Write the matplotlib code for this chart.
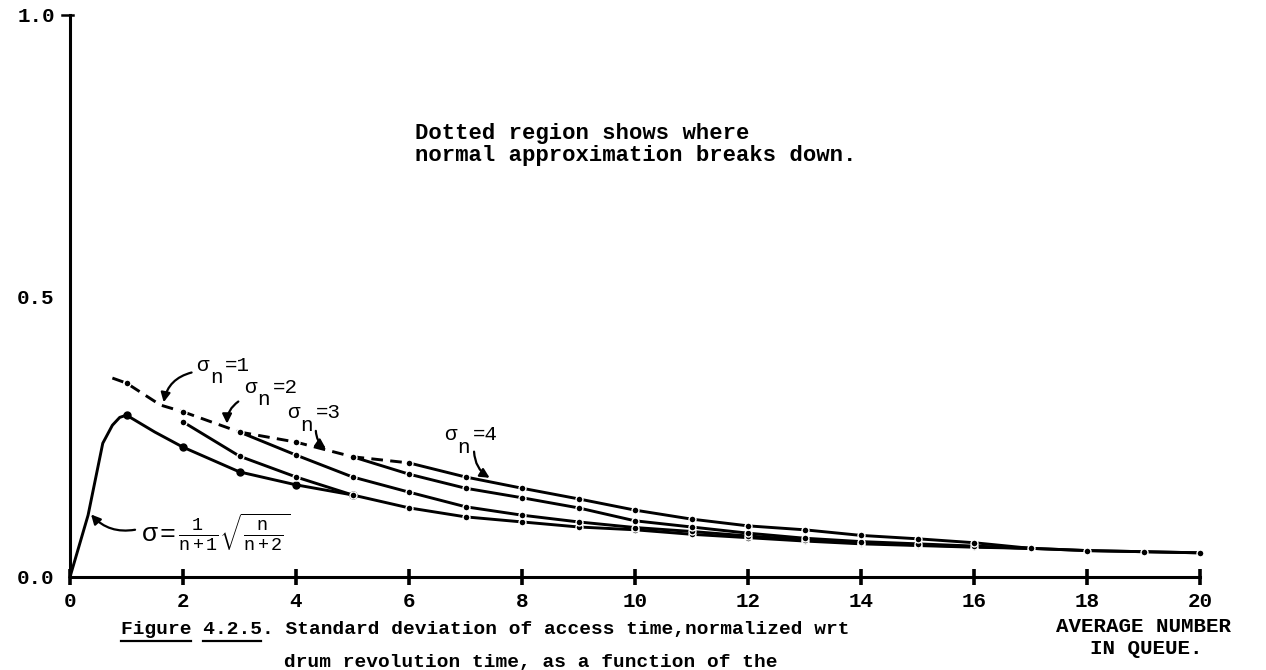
import matplotlib.pyplot as plt

plt.rcParams['font.family'] = ['Liberation Mono', 'DejaVu Sans Mono']
plt.rcParams['mathtext.fontset'] = 'custom'
plt.rcParams['mathtext.rm'] = 'Liberation Mono'
plt.rcParams['mathtext.it'] = 'Liberation Mono'
plt.rcParams['mathtext.bf'] = 'Liberation Mono:bold'

# axis ticks
x_ticks = [0, 2, 4, 6, 8, 10, 12, 14, 16, 18, 20]
y_ticks = [0.0, 0.5, 1.0]
y_labels = ['0.0', '0.5', '1.0']

# exact curve  sigma = 1/(n+1) * sqrt(n/(n+2))
exact_x = [0, 0.32, 0.58, 0.75, 0.88, 1, 1.5, 2, 3, 4, 5]
exact_y = [0, 0.11, 0.238, 0.27, 0.284, 0.288, 0.258, 0.231, 0.187, 0.164, 0.146]

# sigma_n = 1 .. 4 : dotted part (normal approx. breaks down) + valid part
s1_dot_x = [0.75, 1, 1.6, 2]
s1_dot_y = [0.354, 0.345, 0.306, 0.294]
s1_x = [2, 3, 4, 5, 6, 7, 8, 9, 10, 11, 12, 13, 14, 15, 16, 17, 18, 19, 20]
s1_y = [0.276, 0.215, 0.178, 0.146, 0.123, 0.107, 0.098, 0.089, 0.084, 0.076,
        0.070, 0.064, 0.059, 0.056, 0.053, 0.051, 0.047, 0.045, 0.043]

s2_dot_x = [2, 3]
s2_dot_y = [0.294, 0.258]
s2_x = [3, 4, 5, 6, 7, 8, 9, 10, 11, 12, 13, 14, 15, 16, 17]
s2_y = [0.258, 0.217, 0.178, 0.151, 0.125, 0.110, 0.098, 0.088, 0.081, 0.073,
        0.066, 0.061, 0.057, 0.054, 0.051]

s3_dot_x = [3, 4, 5]
s3_dot_y = [0.258, 0.240, 0.214]
s3_x = [5, 6, 7, 8, 9, 10, 11, 12, 13, 14, 15, 16, 17]
s3_y = [0.214, 0.183, 0.158, 0.141, 0.123, 0.100, 0.089, 0.078, 0.069, 0.063,
        0.059, 0.055, 0.051]

s4_dot_x = [5, 6]
s4_dot_y = [0.214, 0.203]
s4_x = [6, 7, 8, 9, 10, 11, 12, 13, 14, 15, 16, 17, 18, 19, 20]
s4_y = [0.203, 0.178, 0.158, 0.139, 0.119, 0.103, 0.091, 0.084, 0.074, 0.068,
        0.061, 0.051, 0.047, 0.045, 0.043]

W, H = 1266, 670
fig = plt.figure(figsize=(W / 100, H / 100), dpi=100)
ax = fig.add_axes([70 / W, 93 / H, 1130 / W, 562 / H])

ax.set_xlim(0, 20)
ax.set_ylim(0, 1.0)
for side in ['top', 'right']:
    ax.spines[side].set_visible(False)
for side in ['left', 'bottom']:
    ax.spines[side].set_linewidth(2.2)

ax.set_xticks(x_ticks)
ax.set_xticklabels([str(t) for t in x_ticks])
ax.tick_params(axis='x', direction='inout', length=11, width=2.6, pad=5, labelsize=15)
ax.set_yticks(y_ticks)
ax.set_yticklabels(y_labels)
ax.tick_params(axis='y', length=0, pad=11, labelsize=15)
for lbl in ax.get_xticklabels() + ax.get_yticklabels():
    lbl.set_fontweight('bold')
# small mark at the top of the y axis
ax.plot([-0.15, 0.05], [1.0, 1.0], color='black', lw=1.8, clip_on=False)

solid_kw = dict(color='black', lw=2.1, marker='o', ms=5, mfc='black', mec='white',
                mew=1.0, clip_on=False, zorder=3)
dash_kw = dict(color='black', lw=2.1, linestyle=(0, (4, 2.5)), marker='o', ms=5,
               mfc='black', mec='white', mew=1.0, clip_on=False, zorder=3)

ax.plot(exact_x, exact_y, color='black', lw=2.1, marker='o', ms=5, mfc='black',
        mec='black', markevery=[5, 7, 8, 9, 10], clip_on=False, zorder=3)

ax.plot(s1_dot_x, s1_dot_y, markevery=[1, 3], **dash_kw)
ax.plot(s1_x, s1_y, **solid_kw)
ax.plot(s2_dot_x, s2_dot_y, **dash_kw)
ax.plot(s2_x, s2_y, **solid_kw)
ax.plot(s3_dot_x, s3_dot_y, **dash_kw)
ax.plot(s3_x, s3_y, **solid_kw)
ax.plot(s4_dot_x, s4_dot_y, **dash_kw)
ax.plot(s4_x, s4_y, **solid_kw)

# sigma_n labels with arrows
arrow_kw = dict(arrowstyle='-|>', lw=1.6, color='black', mutation_scale=14)
labels = [
    ('1', 2.35, 0.377, (2.2, 0.365), (1.65, 0.306), 'arc3,rad=0.35'),
    ('2', 3.19, 0.338, (3.02, 0.315), (2.78, 0.268), 'arc3,rad=0.3'),
    ('3', 3.95, 0.292, (4.35, 0.265), (4.57, 0.226), 'arc3,rad=0.3'),
    ('4', 6.73, 0.253, (7.15, 0.228), (7.47, 0.174), 'arc3,rad=0.3'),
]
for num, lx, ly, start, tip, conn in labels:
    ax.text(lx, ly, 'σ', fontsize=15, ha='center', va='center')
    ax.text(lx + 0.24, ly - 0.022, 'n', fontsize=15, ha='center', va='center')
    ax.text(lx + 0.62, ly, '=' + num, fontsize=15, ha='center', va='center')
    ax.annotate('', xy=tip, xytext=start,
                arrowprops=dict(connectionstyle=conn, **arrow_kw))

# formula for the exact curve
ax.text(1.25, 0.08, r'$\sigma=\frac{1}{n+1}\sqrt{\frac{n}{n+2}}$', fontsize=19,
        ha='left', va='center')
ax.annotate('', xy=(0.34, 0.115), xytext=(1.2, 0.085),
            arrowprops=dict(connectionstyle='arc3,rad=-0.3', **arrow_kw))

# notes
fig.text(415 / W, 1 - 133 / H, 'Dotted region shows where', fontsize=16,
         fontweight='bold', va='center', ha='left')
fig.text(415 / W, 1 - 155 / H, 'normal approximation breaks down.', fontsize=16,
         fontweight='bold', va='center', ha='left')

fig.text(1144 / W, 1 - 627 / H, 'AVERAGE NUMBER', fontsize=15, fontweight='bold',
         ha='center', va='center')
fig.text(1146 / W, 1 - 648 / H, 'IN QUEUE.', fontsize=15, fontweight='bold',
         ha='center', va='center')

# caption
cap_fs = 14
cap_x = 121
cap_y = 630
char_w = 0.6 * cap_fs * 100 / 72
fig.text(cap_x / W, 1 - cap_y / H,
         'Figure 4.2.5. Standard deviation of access time,normalized wrt',
         fontsize=cap_fs, fontweight='bold', ha='left', va='center')
fig.text((cap_x + 14 * char_w) / W, 1 - 662 / H,
         'drum revolution time, as a function of the',
         fontsize=cap_fs, fontweight='bold', ha='left', va='center')
for start, n in [(0, 6), (7, 5)]:
    x0 = (cap_x + start * char_w) / W
    x1 = (cap_x + (start + n) * char_w) / W
    fig.add_artist(plt.Line2D([x0, x1], [1 - 641 / H, 1 - 641 / H],
                              color='black', lw=1.6))

fig.savefig('out.png', dpi=100)
